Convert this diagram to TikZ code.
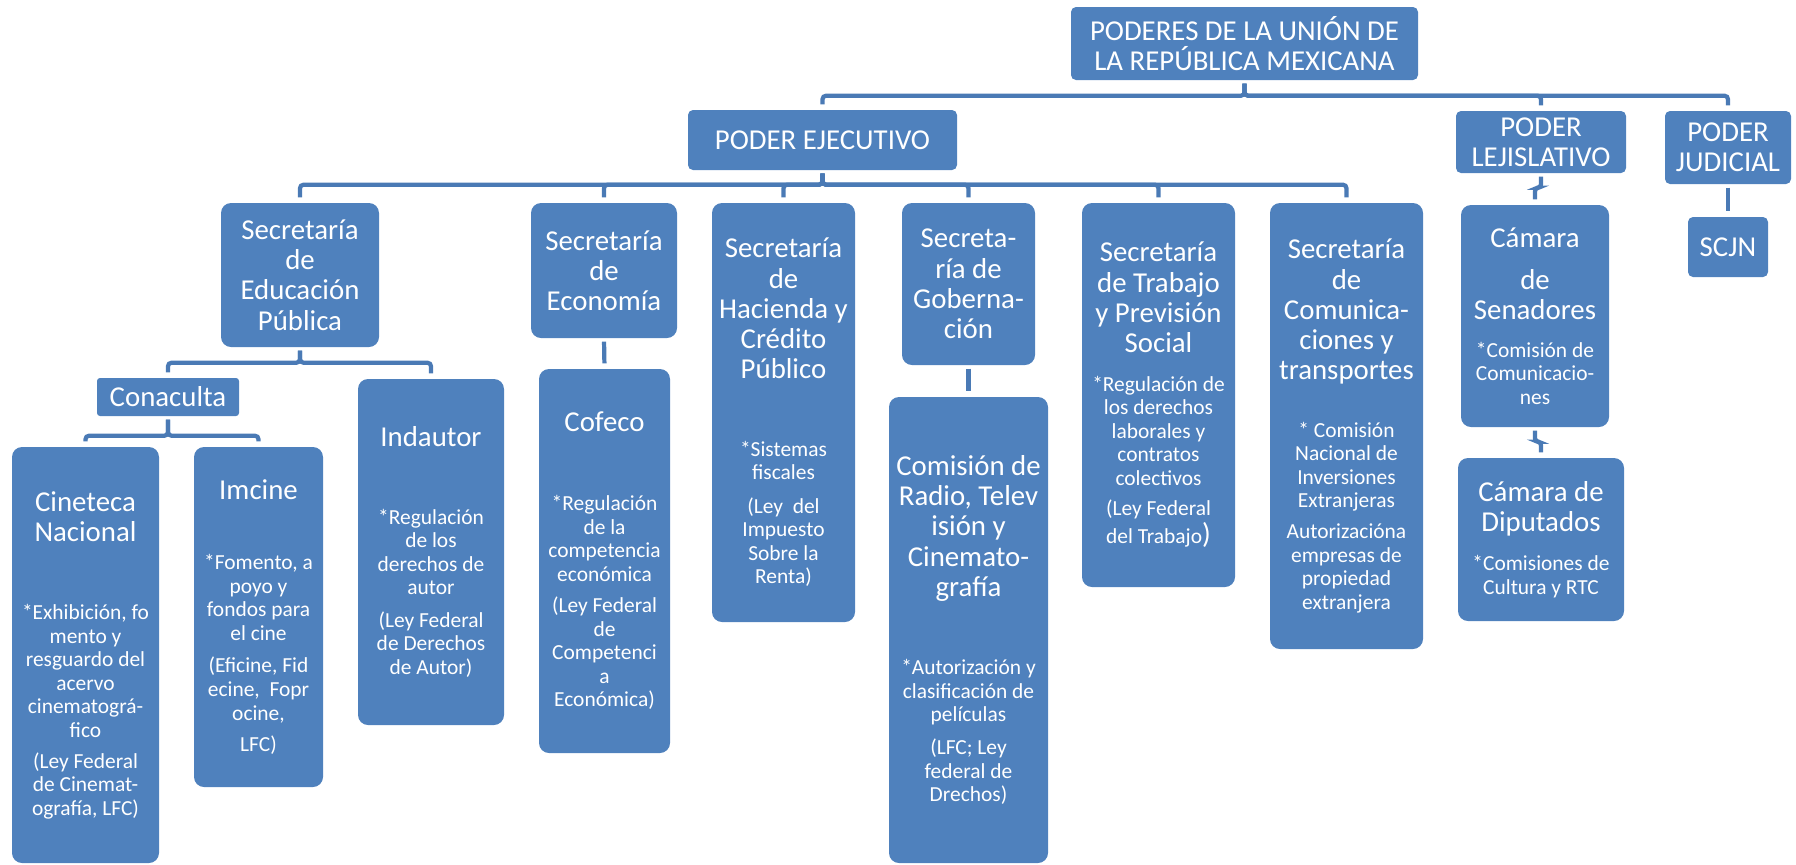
\documentclass[tikz,border=0pt]{standalone}
\usepackage{fontspec}
\setmainfont{Carlito}
\usepackage{tikz}
\definecolor{boxblue}{HTML}{4F81BD}
\definecolor{linkblue}{HTML}{4A7AB5}
\tikzset{
  org/.style={fill=boxblue,text=white,rounded corners=1mm,inner xsep=0pt,inner ysep=0pt,align=flush center},
  sz/.style 2 args={text width=#1mm,minimum height=#2mm},
  link/.style={draw=linkblue,line width=1.2pt,rounded corners=1pt,shorten <=.3mm,shorten >=.5mm}}

\begin{document}
\begin{tikzpicture}[x=0.1mm,y=-0.1mm]
  % 1 unit = 1 px of the 1796x864 chart, y runs down
  \def\hd#1{{\fontsize{8.2}{8.6}\selectfont #1\par}}   % box title
  \def\sm#1{{\fontsize{6.1}{6.7}\selectfont #1\par}}   % notes and laws
  \def\gap#1{\vspace{#1mm}}
  \useasboundingbox (0,0) rectangle (1796,864);

  % the three powers
  \node[org,sz={34.7}{7.3},rounded corners=.5mm] (pod) at (1244.5,43.5) {\hd{PODERES DE LA UNIÓN DE\\LA REPÚBLICA MEXICANA}};
  \node[org,sz={26.9}{6.0},rounded corners=.5mm] (ejec) at (822.5,140) {\hd{PODER EJECUTIVO}};
  \node[org,sz={17.0}{6.2},rounded corners=.5mm] (leg) at (1541,142) {\hd{PODER\\LEJISLATIVO}};
  \node[org,sz={12.6}{7.3},rounded corners=.5mm] (jud) at (1728,147.5) {\hd{PODER\\JUDICIAL}};

  % secretarias
  \node[org,sz={15.8}{14.4}] (sep) at (300,275) {\hd{Secretaría\\de\\Educación\\Pública}};
  \node[org,sz={14.6}{13.5}] (eco) at (604,270.5) {\hd{Secretaría\\de\\Economía}};
  \node[org,sz={14.3}{41.9}] (shcp) at (783.5,412.5) {\hd{Secretaría\\de\\Hacienda y\\Crédito\\Público}\gap{5.4}\sm{*Sistemas\\fiscales}\gap{1}\sm{(Ley~~del\\Impuesto\\Sobre la\\Renta)}};
  \node[org,sz={13.3}{16.2}] (gob) at (968.5,284) {\hd{Secreta-\\ría de\\Goberna-\\ción}};
  \node[org,sz={15.3}{38.4}] (stps) at (1158.5,395) {\hd{Secretaría\\de Trabajo\\y Previsión\\Social}\gap{1.5}\sm{*Regulación de\\los derechos\\laborales y\\contratos\\colectivos}\gap{.7}\sm{(Ley Federal\\del Trabajo{\fontsize{8.2}{6.7}\selectfont)}}};
  \node[org,sz={15.3}{44.6}] (sct) at (1346.5,426) {\hd{Secretaría\\de\\Comunica-\\ciones y\\transportes}\gap{3.4}\sm{* Comisión\\Nacional de\\Inversiones\\Extranjeras}\gap{.7}\sm{Autorizacióna\\empresas de\\propiedad\\extranjera}};

  % camaras y corte
  \node[org,sz={14.8}{22.2}] (sen) at (1535,316) {\hd{Cámara}\gap{1.2}\hd{de\\Senadores}\gap{1.4}\sm{*Comisión de\\Comunicacio-\\nes}};
  \node[org,sz={16.6}{16.3}] (dip) at (1541,539.5) {\hd{Cámara de\\Diputados}\gap{1.6}\sm{*Comisiones de\\Cultura y RTC}};
  \node[org,sz={8.0}{6.0},rounded corners=.5mm] (scjn) at (1728,247) {\hd{SCJN}};

  % organismos
  \node[org,sz={14.2}{3.8},rounded corners=.3mm] (conac) at (168,397) {\hd{Conaculta}};
  \node[org,sz={14.6}{34.6}] (indau) at (431,552) {\hd{Indautor}\gap{5.4}\sm{*Regulación\\de los\\derechos de\\autor}\gap{.9}\sm{(Ley Federal\\de Derechos\\de Autor)}};
  \node[org,sz={14.7}{41.6}] (cinet) at (85.5,655) {\hd{Cineteca\\Nacional}\gap{5.5}\sm{*Exhibición, fo\\mento y\\resguardo del\\acervo\\cinematográ-\\fico}\gap{.7}\sm{(Ley Federal\\de Cinemat-\\ografía, LFC)}};
  \node[org,sz={12.9}{34.0}] (imcine) at (258.5,617) {\hd{Imcine}\gap{4.7}\sm{*Fomento, a\\poyo y\\fondos para\\el cine}\gap{.9}\sm{(Eficine, Fid\\ecine,~~Fopr\\ocine,}\gap{.8}\sm{LFC)}};
  \node[org,sz={13.1}{38.4}] (cofeco) at (604.5,561) {\hd{Cofeco}\gap{5.5}\sm{*Regulación\\de la\\competencia\\económica}\gap{.8}\sm{(Ley Federal\\de\\Competenci\\a\\Económica)}};
  \node[org,sz={15.9}{46.6}] (crtc) at (968.5,630) {\hd{Comisión de\\Radio, Telev\\isión y\\Cinemato-\\grafía}\gap{5.5}\sm{*Autorización y\\clasificación de\\películas}\gap{.9}\sm{(LFC; Ley\\federal de\\Drechos)}};

  % connectors
  \foreach \p in {ejec,leg,jud} \draw[link] (pod.south) -- ++(0,15) -| (\p.north);
  \foreach \s in {sep,eco,shcp,gob,stps,sct} \draw[link] (ejec.south) -- ++(0,14) -| (\s.north);
  \foreach \s in {conac,indau} \draw[link] (sep.south) -- ++(0,15) -| (\s.north);
  \foreach \s in {cinet,imcine} \draw[link] (conac.south) -- ++(0,19) -| (\s.north);
  \draw[link] (eco.south) -- (cofeco.north);
  \draw[link] (gob.south) -- (crtc.north);
  \draw[link] (leg.south) -- ++(0,14) -| (sen.north);
  \draw[link] (sen.south) -- ++(0,14) -| (dip.north);
  \draw[link] (jud.south) -- (scjn.north);
\end{tikzpicture}
\end{document}
